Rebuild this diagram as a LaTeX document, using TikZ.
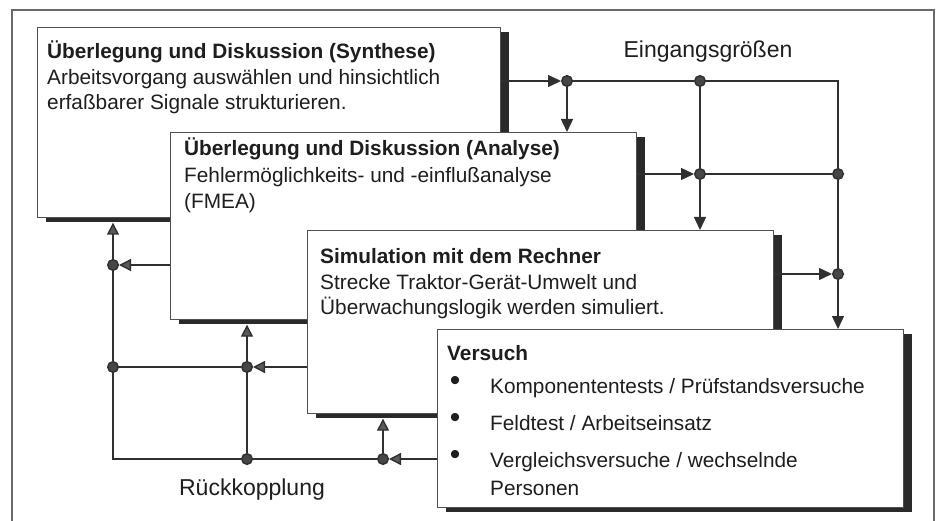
\documentclass[tikz,border=0pt]{standalone}
\usepackage{fontspec}
\setmainfont{Liberation Sans}
\usetikzlibrary{arrows.meta,shadows}
\definecolor{ln}{HTML}{303030}
\definecolor{bd}{HTML}{505050}
\definecolor{sh}{HTML}{2A2A2A}
\definecolor{tx}{HTML}{1E1E1E}
\definecolor{fr}{HTML}{6A6A6A}
\begin{document}
\begin{tikzpicture}[x=1pt,y=-1pt,
  box/.style={draw=bd, line width=1.2pt, fill=white, anchor=north west, inner sep=0pt,
    general shadow={fill=sh, shadow xshift=8pt, shadow yshift=-4.5pt}},
  txt/.style={anchor=base west, inner sep=0pt, text=tx, font=\fontsize{20.8}{25}\selectfont},
  ttl/.style={anchor=base west, inner sep=0pt, text=tx, font=\fontsize{20.8}{25}\selectfont\bfseries},
  lbl/.style={anchor=base, inner sep=0pt, text=tx, font=\fontsize{23}{27}\selectfont},
  bul/.style={anchor=center, inner sep=0pt, text=tx, font=\fontsize{30}{30}\selectfont},
  dot/.style={circle, draw=ln, fill=black!72, line width=1.5pt, inner sep=0pt, minimum size=10.5pt},
  lnk/.style={draw=ln, line width=1.4pt},
  arr/.style={lnk, -{Triangle[length=13pt,width=12pt]}},
  farr/.style={lnk, -{Triangle[length=12pt,width=12pt,fill=black!65]}},
  frame/.style={draw=fr, line width=1.3pt}
]
\useasboundingbox (0,0) rectangle (939,521);
\clip (0,0) rectangle (939,521);
\fill[white] (0,0) rectangle (939,521);
\draw[frame] (12,540) -- (12,10) -- (934,10) -- (934,540);

% Box 1
\node[box, minimum width=463pt, minimum height=190pt] (b1) at (37,27) {};
\node[ttl] (t1a) at (47,59) {Überlegung und Diskussion (Synthese)};
\node[txt] (t1b) at (47,85) {Arbeitsvorgang auswählen und hinsichtlich};
\node[txt] (t1c) at (47,110) {erfaßbarer Signale strukturieren.};

% Box 2
\node[box, minimum width=466pt, minimum height=187pt] (b2) at (170,132) {};
\node[ttl] (t2a) at (184,156) {Überlegung und Diskussion (Analyse)};
\node[txt] (t2b) at (184,183) {Fehlermöglichkeits- und -einflußanalyse};
\node[txt] (t2c) at (184,209) {(FMEA)};

% Box 3
\node[box, minimum width=466pt, minimum height=183pt] (b3) at (307,230) {};
\node[ttl] (t3a) at (320,263) {Simulation mit dem Rechner};
\node[txt] (t3b) at (320,289) {Strecke Traktor-Gerät-Umwelt und};
\node[txt] (t3c) at (320,314) {Überwachungslogik werden simuliert.};

% Box 4
\node[box, minimum width=466pt, minimum height=178pt] (b4) at (437,329) {};
\node[ttl] (t4a) at (447,360) {Versuch};
\node[bul] (u1) at (455,383) {•};
\node[txt] (t4b) at (490,393) {Komponententests / Prüfstandsversuche};
\node[bul] (u2) at (455,420) {•};
\node[txt] (t4c) at (490,430) {Feldtest / Arbeitseinsatz};
\node[bul] (u3) at (455,457) {•};
\node[txt] (t4d) at (490,467) {Vergleichsversuche / wechselnde};
\node[txt] (t4e) at (490,495) {Personen};

% Labels
\node[lbl] (lin) at (708,58) {Eingangsgrößen};
\node[lbl] (lfb) at (252,495) {Rückkopplung};

% Dots
\node[dot] (A) at (567,81) {};
\node[dot] (B) at (700,81) {};
\coordinate (c1) at (838,81);
\node[dot] (C) at (838,174) {};
\node[dot] (D) at (838,274) {};
\node[dot] (E) at (700,174) {};
\node[dot] (F) at (113,265) {};
\node[dot] (H) at (113,367) {};
\node[dot] (I) at (247,367) {};
\node[dot] (J) at (247,459) {};
\node[dot] (K) at (383,459) {};
\coordinate (G) at (113,459);

% Input connectors
\draw[arr] (b1.east |- A) -- (A);
\draw[arr] (A) -- (A |- b2.north);
\draw[lnk] (A) -- (B) -- (c1) -- (C) -- (D);
\draw[arr] (D) -- (D |- b4.north);
\draw[lnk] (B) -- (E);
\draw[arr] (E) -- (E |- b3.north);
\draw[arr] (b2.east |- E) -- (E);
\draw[lnk] (E) -- (C);
\draw[arr] (b3.east |- D) -- (D);

% Feedback connectors
\draw[farr] (b2.west |- F) -- (F);
\draw[farr] (F) -- ([yshift=-4.5pt]b1.south -| F);
\draw[lnk] (F) -- (H) -- (G) -- (J) -- (K);
\draw[lnk] (H) -- (I);
\draw[farr] (b3.west |- I) -- (I);
\draw[farr] (I) -- ([yshift=-4.5pt]b2.south -| I);
\draw[lnk] (I) -- (J);
\draw[farr] (b4.west |- K) -- (K);
\draw[farr] (K) -- ([yshift=-4.5pt]b3.south -| K);
\end{tikzpicture}
\end{document}
